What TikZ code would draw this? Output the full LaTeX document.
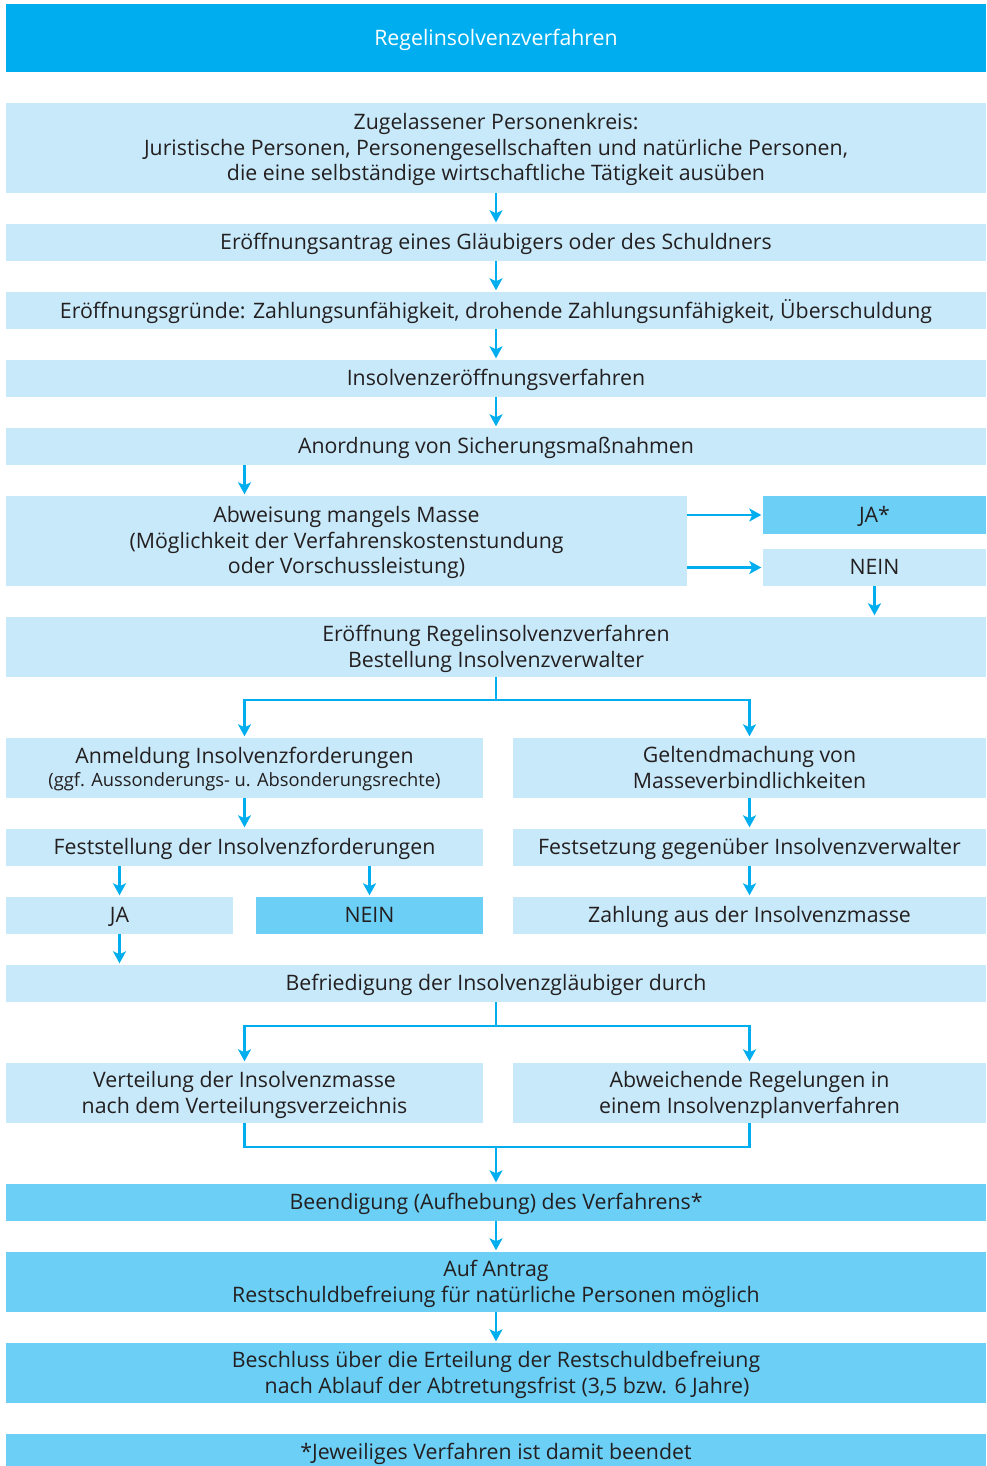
\documentclass[tikz,border=0pt]{standalone}
\usepackage{fontspec}
\setmainfont{Open Sans}
\usetikzlibrary{arrows.meta,calc}
\definecolor{hdr}{HTML}{00AEEF}
\definecolor{lite}{HTML}{C8E9F9}
\definecolor{mid}{HTML}{6CCFF6}
\definecolor{txt}{HTML}{231F20}
\tikzset{
  box/.style={fill=lite,text=txt,inner sep=0pt,font=\fontsize{21.3}{25.8}\selectfont},
  midbox/.style={box,fill=mid},
  hdrbox/.style={box,fill=hdr,text=white},
  arr/.style={draw=hdr,line width=2.4pt,-{Stealth[length=12pt,width=13pt,inset=3pt]},shorten >=1.5pt},
  ln/.style={draw=hdr,line width=2.4pt}
}
\newcommand{\bx}[7]{%
  \node[#6,minimum width={(#4-#2)*1pt},minimum height={(#5-#3)*1pt}] (#1) at ({(#2+#4)/2},{(#3+#5)/2})
  {\raisebox{-2pt}[\height][\depth]{\begin{tabular}{@{}c@{}}#7\end{tabular}}};}
\begin{document}
\begin{tikzpicture}[x=1pt,y=-1pt]
\useasboundingbox (0,0) rectangle (986,1466);
\bx{h}{6}{4}{986}{72}{hdrbox}{Regelinsolvenzverfahren}
\bx{b1}{6}{103}{986}{193}{box}{Zugelassener Personenkreis:\\Juristische Personen, Personengesellschaften und natürliche Personen,\\die eine selbständige wirtschaftliche Tätigkeit ausüben}
\bx{b2}{6}{224}{986}{261}{box}{Eröffnungsantrag eines Gläubigers oder des Schuldners}
\bx{b3}{6}{292}{986}{329}{box}{Eröffnungsgründe: Zahlungsunfähigkeit, drohende Zahlungsunfähigkeit, Überschuldung}
\bx{b4}{6}{360}{986}{397}{box}{Insolvenzeröffnungsverfahren}
\bx{b5}{6}{428}{986}{465}{box}{Anordnung von Sicherungsmaßnahmen}
\bx{b6}{6}{496}{687}{586}{box}{Abweisung mangels Masse\\(Möglichkeit der Verfahrenskostenstundung\\oder Vorschussleistung)}
\bx{ja1}{763}{496}{986}{534}{midbox}{JA*}
\bx{nein1}{763}{549}{986}{586}{box}{NEIN}
\bx{b7}{6}{617}{986}{677}{box}{Eröffnung Regelinsolvenzverfahren\\Bestellung Insolvenzverwalter}
\bx{b8l}{6}{738}{483}{798}{box}{Anmeldung Insolvenzforderungen\\[-3pt]{\fontsize{18.3}{22}\selectfont(ggf. Aussonderungs- u. Absonderungsrechte)}}
\bx{b8r}{513}{738}{986}{798}{box}{Geltendmachung von\\Masseverbindlichkeiten}
\bx{b9l}{6}{829}{483}{866}{box}{Feststellung der Insolvenzforderungen}
\bx{b9r}{513}{829}{986}{866}{box}{Festsetzung gegenüber Insolvenzverwalter}
\bx{ja2}{6}{897}{233}{934}{box}{JA}
\bx{nein2}{256}{897}{483}{934}{midbox}{NEIN}
\bx{b10r}{513}{897}{986}{934}{box}{Zahlung aus der Insolvenzmasse}
\bx{b11}{6}{965}{986}{1002}{box}{Befriedigung der Insolvenzgläubiger durch}
\bx{b12l}{6}{1063}{483}{1123}{box}{Verteilung der Insolvenzmasse\\nach dem Verteilungsverzeichnis}
\bx{b12r}{513}{1063}{986}{1123}{box}{Abweichende Regelungen in\\einem Insolvenzplanverfahren}
\bx{b13}{6}{1184}{986}{1221}{midbox}{Beendigung (Aufhebung) des Verfahrens*}
\bx{b14}{6}{1252}{986}{1312}{midbox}{Auf Antrag\\Restschuldbefreiung für natürliche Personen möglich}
\bx{b15}{6}{1343}{986}{1403}{midbox}{Beschluss über die Erteilung der Restschuldbefreiung\\\hspace*{22pt}nach Ablauf der Abtretungsfrist (3,5 bzw. 6 Jahre)}
\bx{b16}{6}{1434}{986}{1466}{midbox}{\raisebox{-3pt}{*Jeweiliges Verfahren ist damit beendet}}
% connectors
\draw[arr] (b1.south) -- (b2.north);
\draw[arr] (b2.south) -- (b3.north);
\draw[arr] (b3.south) -- (b4.north);
\draw[arr] (b4.south) -- (b5.north);
\draw[arr] (b5.south -| b8l) -- (b6.north -| b8l);
\draw[arr] (b6.east |- ja1) -- (ja1.west);
\draw[arr] (b6.east |- nein1) -- (nein1.west);
\draw[arr] (nein1.south) -- (nein1.south |- b7.north);
\coordinate (s1) at ($(b7.south)+(0,23)$);
\draw[ln] (b7.south) -- (s1);
\draw[arr] (s1) -| (b8l.north);
\draw[arr] (s1) -| (b8r.north);
\draw[arr] (b8l.south) -- (b9l.north);
\draw[arr] (b8r.south) -- (b9r.north);
\draw[arr] (b9l.south -| ja2) -- (ja2.north);
\draw[arr] (b9l.south -| nein2) -- (nein2.north);
\draw[arr] (b9r.south) -- (b10r.north);
\draw[arr] (ja2.south) -- (ja2.south |- b11.north);
\coordinate (s2) at ($(b11.south)+(0,24)$);
\draw[ln] (b11.south) -- (s2);
\draw[arr] (s2) -| (b12l.north);
\draw[arr] (s2) -| (b12r.north);
\coordinate (s3) at ($(b13.north)+(0,-37)$);
\draw[ln] (b12l.south) |- (s3) -| (b12r.south);
\draw[arr] (s3) -- (b13.north);
\draw[arr] (b13.south) -- (b14.north);
\draw[arr] (b14.south) -- (b15.north);
\end{tikzpicture}
\end{document}
